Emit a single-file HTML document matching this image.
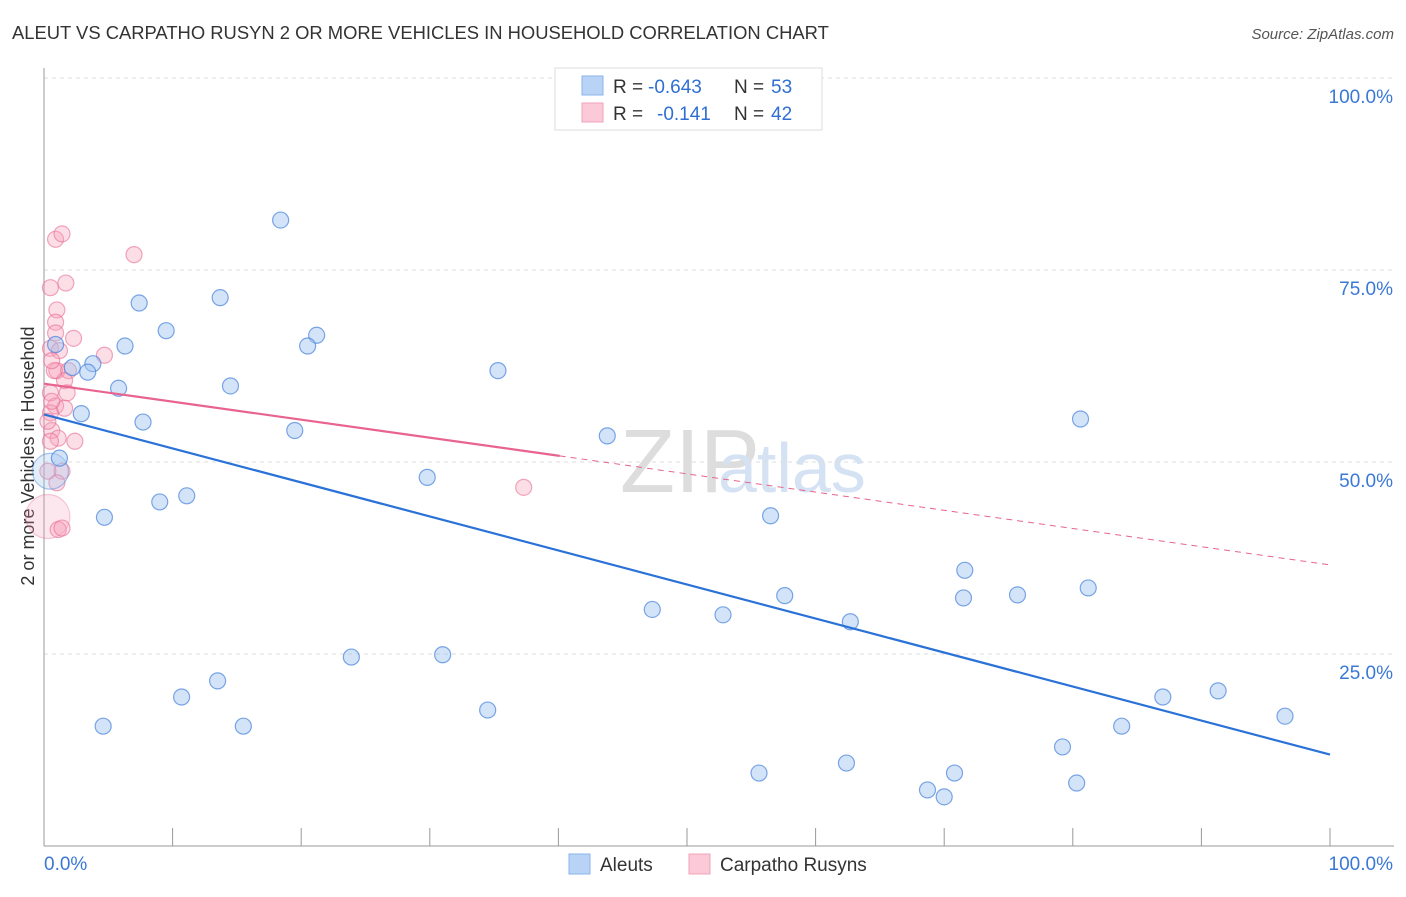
<!DOCTYPE html>
<html><head><meta charset="utf-8"><style>
body{margin:0;background:#fff;font-family:"Liberation Sans",sans-serif}
svg text{font-family:"Liberation Sans",sans-serif}
</style></head><body>
<svg id="c" width="1406" height="892">
<text x="12" y="39" font-size="18.4" fill="#333">ALEUT VS CARPATHO RUSYN 2 OR MORE VEHICLES IN HOUSEHOLD CORRELATION CHART</text>
<text x="1394" y="39" font-size="15" fill="#555" font-style="italic" text-anchor="end">Source: ZipAtlas.com</text>
<text x="620" y="492" font-size="90" fill="#ddd" font-family="Liberation Serif">ZIP</text>
<text x="718" y="492" font-size="70" fill="#d4e2f4">atlas</text>
<text transform="translate(34,456) rotate(-90)" font-size="18" fill="#333" text-anchor="middle">2 or more Vehicles in Household</text>
<g id="grid"></g><g id="pts"></g><g id="lines"></g>
<g>
<rect x="555" y="68" width="267" height="62" fill="#fff" stroke="#ddd"/>
<rect x="582" y="76" width="21" height="19" fill="#b8d3f5" stroke="#8ab4ea"/>
<rect x="582" y="103" width="21" height="19" fill="#fbc9d7" stroke="#f2a3bb"/>
<text x="613" y="93" font-size="19" fill="#333">R =</text>
<text x="648" y="93" font-size="19" fill="#2f6fd3">-0.643</text>
<text x="734" y="93" font-size="19" fill="#333">N =</text>
<text x="771" y="93" font-size="19" fill="#2f6fd3">53</text>
<text x="613" y="120" font-size="19" fill="#333">R =</text>
<text x="657" y="120" font-size="19" fill="#2f6fd3">-0.141</text>
<text x="734" y="120" font-size="19" fill="#333">N =</text>
<text x="771" y="120" font-size="19" fill="#2f6fd3">42</text>
</g>
<g>
<rect x="569" y="854" width="21" height="20" fill="#b8d3f5" stroke="#8ab4ea"/>
<text x="600" y="871" font-size="19" fill="#333">Aleuts</text>
<rect x="689" y="854" width="21" height="20" fill="#fbc9d7" stroke="#f2a3bb"/>
<text x="720" y="871" font-size="19" fill="#333">Carpatho Rusyns</text>
</g>
</svg>
<script>
const yTicks=[25,50,75,100];
const aleutX=[18.4,13.7,7.4,9.5,21.2,6.3,20.5,0.9,3.8,2.2,3.4,35.3,14.5,5.8,2.9,7.7,19.5,43.8,80.6,29.8,9.0,11.1,4.7,56.5,71.6,57.6,71.5,75.7,81.2,47.3,52.8,62.7,23.9,31.0,13.5,10.7,34.5,4.6,15.5,87.0,91.3,96.5,83.8,79.2,55.6,62.4,70.8,68.7,70.0,80.3,0.5,1.2];
const aleutY=[81.5,71.4,70.7,67.1,66.5,65.1,65.1,65.3,62.8,62.3,61.7,61.9,59.9,59.6,56.3,55.2,54.1,53.4,55.6,48.0,44.8,45.6,42.8,43.0,35.9,32.6,32.3,32.7,33.6,30.8,30.1,29.2,24.6,24.9,21.5,19.4,17.7,15.6,15.6,19.4,20.2,16.9,15.6,12.9,9.5,10.8,9.5,7.3,6.4,8.2,48.8,50.5];
const aleutR=[8,8,8,8,8,8,8,8,8,8,8,8,8,8,8,8,8,8,8,8,8,8,8,8,8,8,8,8,8,8,8,8,8,8,8,8,8,8,8,8,8,8,8,8,8,8,8,8,8,8,18,8];
const rusynX=[0.9,1.4,7.0,0.5,1.7,1.0,0.9,0.9,2.3,0.5,4.7,1.0,1.9,1.6,1.8,0.5,0.9,1.6,0.5,0.6,1.1,2.4,0.5,1.4,1.0,37.3,0.3,1.1,1.4,0.6,0.3,0.8,1.2,0.6,0.3];
const rusynY=[79.0,79.7,77.0,72.7,73.3,69.8,68.2,66.8,66.1,64.8,63.9,61.9,61.9,60.6,59.0,59.0,57.3,57.0,56.4,54.1,53.1,52.7,52.7,48.8,47.3,46.7,42.9,41.2,41.4,57.9,55.3,61.9,64.5,63.2,48.8];
const rusynR=[8,8,8,8,8,8,8,8,8,8,8,8,8,8,8,8,8,8,8,8,8,8,8,8,8,8,22,8,8,8,8,8,8,8,8];
const aleutLine=[56.2,11.9];
const rusynLine=[60.2,50.8,36.6];
const NS="http://www.w3.org/2000/svg";
const X=v=>44+v*12.86, Y=v=>846-v*7.68;
function mk(t,a,p){const e=document.createElementNS(NS,t);for(const k in a)e.setAttribute(k,a[k]);p.appendChild(e);return e;}
const grid=document.getElementById('grid');
yTicks.forEach(t=>{
 const l=mk('line',{x1:44,x2:1394,y1:Y(t),y2:Y(t),stroke:'#ddd','stroke-dasharray':'4,4'},grid);
 
 
 const tx=mk('text',{x:1393,y:Y(t)+25,'font-size':19,fill:'#3a78d6','text-anchor':'end'},grid);
 tx.textContent=t.toFixed(1)+'%';
 
 
});
mk('line',{x1:44,x2:44,y1:68,y2:846,stroke:'#999'},grid);
mk('line',{x1:44,x2:1394,y1:846,y2:846,stroke:'#999'},grid);
for(let i=1;i<=10;i++){mk('line',{x1:44+i*128.6,x2:44+i*128.6,y1:828,y2:846,stroke:'#999'},grid);}
const x0=mk('text',{x:44,y:870,'font-size':19,fill:'#3a78d6'},grid);x0.textContent='0.0%';


const x1=mk('text',{x:1393,y:870,'font-size':19,fill:'#3a78d6','text-anchor':'end'},grid);x1.textContent='100.0%';


const pts=document.getElementById('pts');
rusynX.forEach((v,i)=>{const big=rusynR[i]>10;const c=mk('circle',{cx:X(v),cy:Y(rusynY[i]),r:rusynR[i],fill:big?'rgba(246,160,186,0.25)':'rgba(246,160,186,0.35)',stroke:big?'rgba(232,110,150,0.35)':'rgba(232,110,150,0.6)','stroke-width':1.2},pts);
 
 });
aleutX.forEach((v,i)=>{const big=aleutR[i]>10;const c=mk('circle',{cx:X(v),cy:Y(aleutY[i]),r:aleutR[i],fill:big?'rgba(160,196,240,0.3)':'rgba(160,196,240,0.45)',stroke:big?'rgba(70,130,220,0.45)':'rgba(70,130,220,0.7)','stroke-width':1.2},pts);
 
 });
const lines=document.getElementById('lines');
const bl=mk('line',{x1:X(0),y1:Y(aleutLine[0]),x2:X(100),y2:Y(aleutLine[1]),stroke:'#2a72d8','stroke-width':2.2},lines);


const pl=mk('line',{x1:X(0),y1:Y(rusynLine[0]),x2:X(40.1),y2:Y(rusynLine[1]),stroke:'#e8648e','stroke-width':2.2},lines);


const pd=mk('line',{x1:X(40.1),y1:Y(rusynLine[1]),x2:X(100),y2:Y(rusynLine[2]),stroke:'#e8648e','stroke-width':1,'stroke-dasharray':'6,5'},lines);


</script>
</body></html>
